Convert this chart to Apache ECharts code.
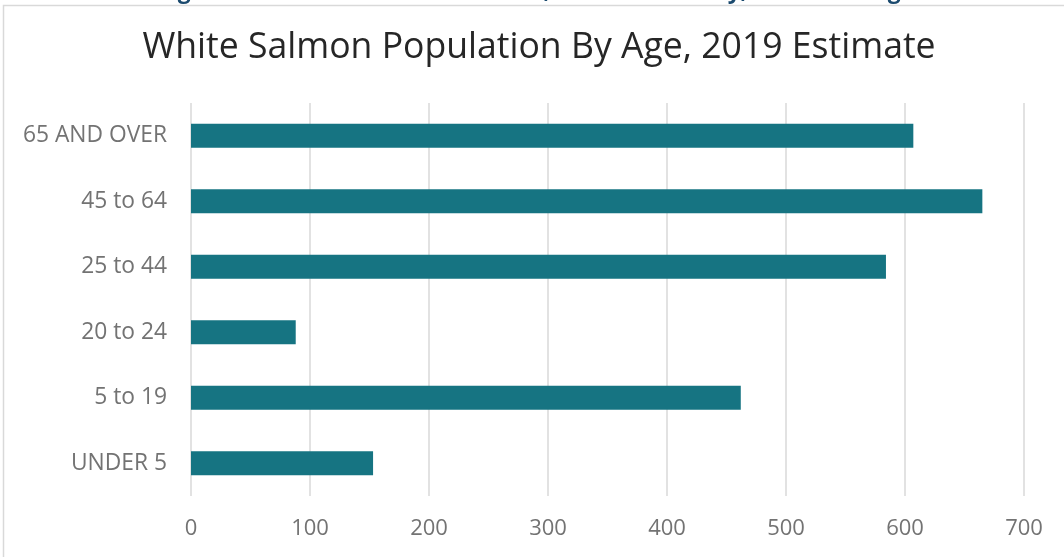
<!DOCTYPE html>
<html>
<head>
<meta charset="utf-8">
<style>
  html, body { margin: 0; padding: 0; background: #fff; }
  #chart { width: 1064px; height: 557px; }
</style>
<script src="https://cdn.jsdelivr.net/npm/echarts@6/dist/echarts.min.js"></script>
</head>
<body>
<div id="chart"></div>
<script>
// bottom to top, as the category axis draws them
var ageGroups = ['UNDER 5', '5 to 19', '20 to 24', '25 to 44', '45 to 64', '65 AND OVER'];
var population = [153, 462, 88, 584, 665, 607];
var xTicks = [0, 100, 200, 300, 400, 500, 600, 700];

var myChart = echarts.init(document.getElementById('chart'));

var option = {
  animation: false,
  textStyle: { fontFamily: 'Open Sans' },
  title: {
    text: 'White Salmon Population By Age, 2019 Estimate',
    left: 534,
    textAlign: 'center',
    top: 25,
    textStyle: { fontFamily: 'Open Sans', fontSize: 35.6, fontWeight: 'normal', color: '#262626' }
  },
  graphic: [
    {
      type: 'rect',
      shape: { x: 3.5, y: 5.5, width: 1100, height: 600 },
      style: { fill: 'none', stroke: '#d9d9d9', lineWidth: 1.5 },
      silent: true
    },
    {
      // caption of the page above the chart, mostly cut off
      type: 'text',
      left: 40,
      top: -20,
      style: {
        text: 'Estimated Age Distribution of White Salmon, Klickitat County, and Washington',
        font: 'bold 23px "Open Sans"',
        fill: '#1b4a6e'
      },
      z: -1
    }
  ],
  grid: { left: 191, right: 40, top: 103, bottom: 61 },
  xAxis: {
    type: 'value',
    min: xTicks[0],
    max: xTicks[xTicks.length - 1],
    interval: 100,
    axisLine: { show: false },
    axisTick: { show: false },
    axisLabel: { fontSize: 22, color: '#737373', margin: 22 },
    splitLine: { lineStyle: { color: '#d9d9d9', width: 1.5 } }
  },
  yAxis: {
    type: 'category',
    data: ageGroups,
    axisLine: { show: false },
    axisTick: { show: false },
    axisLabel: { fontSize: 22.8, color: '#737373', margin: 24 }
  },
  series: [{
    type: 'bar',
    data: population,
    barWidth: 24,
    itemStyle: { color: '#167482' }
  }]
};

myChart.setOption(option);
</script>
</body>
</html>
